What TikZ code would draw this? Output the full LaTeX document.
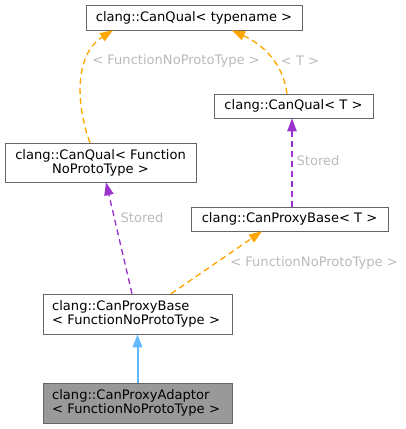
\documentclass[tikz,border=0pt]{standalone}
\usepackage{fontspec}
\setmainfont{DejaVu Sans}
\usetikzlibrary{calc}
\usetikzlibrary{arrows.meta}
\definecolor{inhcolor}{HTML}{63B8FF}
\definecolor{usecolor}{HTML}{9A32CD}
\definecolor{tplcolor}{HTML}{FFA500}
\definecolor{boxline}{HTML}{666666}
\definecolor{lblcolor}{HTML}{BABABA}

\begin{document}
\begin{tikzpicture}[x=0.75pt, y=-0.75pt, >={Triangle[length=9.75pt,width=7pt]},
    cls/.style={draw=boxline, fill=white, inner sep=0pt, align=center, font=\fontsize{9.8}{10.5}\selectfont},
    clsl/.style={cls, align=left, inner xsep=6.875pt, text width=128pt, minimum height=30pt},
    lbl/.style={text=lblcolor, font=\fontsize{9.8}{10.5}\selectfont},
    inh/.style={->, draw=inhcolor, fill=inhcolor, line width=1.5pt},
    use/.style={->, color=usecolor, line width=1pt, dash pattern=on 4.5pt off 3pt},
    tpl/.style={->, color=tplcolor, line width=1pt, dash pattern=on 4.5pt off 3pt},
]
  \useasboundingbox (0, 0) rectangle (405, 429);

  % === Templates ===
  \node[cls, minimum width=162pt, minimum height=18.75pt] (qualtpl) at (194, 17.5) {clang::CanQual< typename >};
  \node[cls, minimum width=119.25pt, minimum height=18pt] (qualT) at (293.5, 106) {clang::CanQual< T >};
  \node[cls, minimum width=147.75pt, minimum height=18pt] (proxyT) at (289.5, 219) {clang::CanProxyBase< T >};

  % === Instances ===
  \node[cls, minimum width=143.25pt, minimum height=29.25pt] (qualfn) at (100.5, 162.5) {clang::CanQual< Function\\NoProtoType >};
  \node[clsl] (proxyfn) at (137.5, 314) {clang::CanProxyBase\\< FunctionNoProtoType >};
  \node[clsl, fill=black!40] (adaptor) at (137.5, 403) {clang::CanProxyAdaptor\\< FunctionNoProtoType >};

  % === Arrows ===
  \draw[inh] (adaptor.north) -- (proxyfn.south);
  \draw[use] ($(proxyfn.north)+(-5.5,0)$) -- ($(qualfn.south)+(5.5,0)$);
  \draw[tpl] ($(proxyfn.north)+(33.5,0)$) -- ($(proxyT.south)+(-27.5,0)$);
  \draw[use] ($(proxyT.north)+(2.5,0)$) -- ($(qualT.south)+(-1.5,0)$);
  \draw[tpl] ($(qualfn.north)+(-10.5,0)$) .. controls (76, 105) and (74, 55) .. ($(qualtpl.south)+(-81,0)$);
  \draw[tpl] ($(qualT.north)+(-6.5,0)$) .. controls (284, 70) and (270, 48) .. ($(qualtpl.south)+(38,0)$);

  % === Labels ===
  \node[lbl] (stored1) at (142, 218) {Stored};
  \node[lbl] (stored2) at (318, 161) {Stored};
  \node[lbl] (argfn1) at (314, 263) {< FunctionNoProtoType >};
  \node[lbl] (argfn2) at (176, 61) {< FunctionNoProtoType >};
  \node[lbl] (argT) at (300, 61) {< T >};
\end{tikzpicture}
\end{document}
